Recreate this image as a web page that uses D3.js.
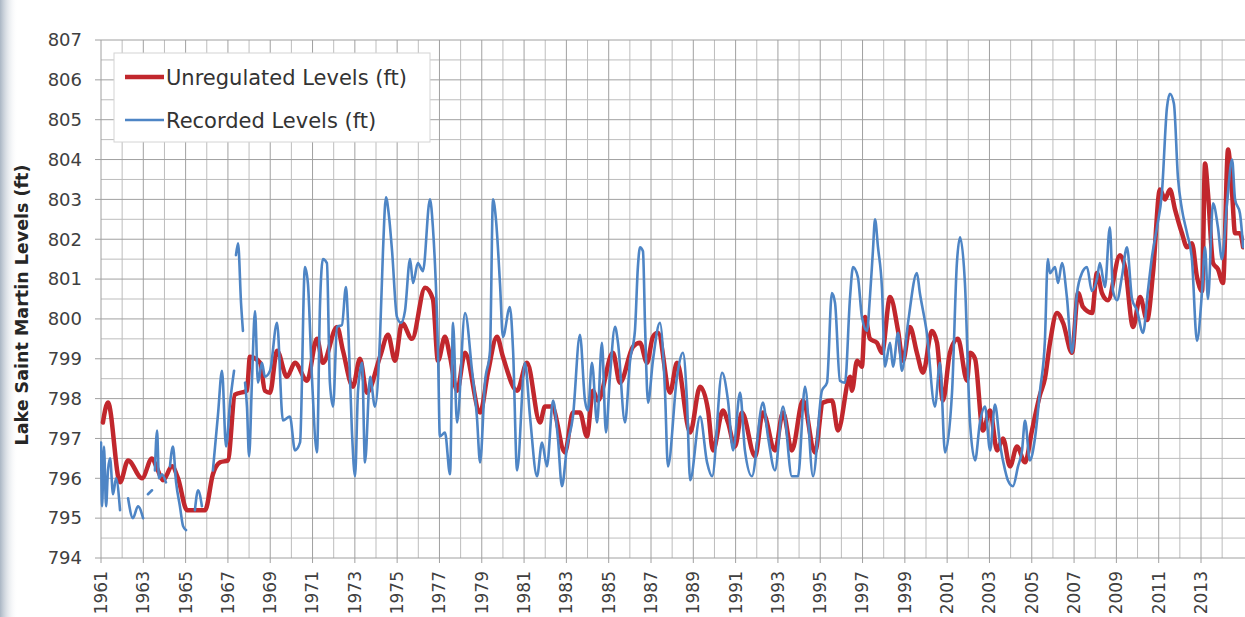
<!DOCTYPE html>
<html>
<head>
<meta charset="utf-8">
<title>Lake Saint Martin Levels</title>
<script src="https://cdn.jsdelivr.net/npm/d3@7"></script>
<style>
  html, body { margin: 0; padding: 0; background: #fff; }
  svg { display: block; font-family: "DejaVu Sans", sans-serif; }
</style>
</head>
<body>
<div id="chart"></div>
<script>
// Unregulated levels (ft) - decimal year / level
const unregYears = [1961.09,1961.33,1961.90,1962.28,1962.94,1963.41,1963.65,1963.93,1964.36,1964.64,1965.07,1965.92,1966.29,1966.63,1967.00,1967.33,1967.90,1968.04,1968.52,1968.75,1968.99,1969.32,1969.79,1970.17,1970.74,1971.21,1971.49,1972.16,1972.44,1972.91,1973.24,1973.57,1974.19,1974.57,1974.90,1975.23,1975.70,1976.32,1976.69,1976.93,1977.26,1977.50,1977.83,1978.21,1978.92,1979.29,1979.72,1980.00,1980.67,1981.14,1981.75,1981.99,1982.32,1982.93,1983.31,1983.64,1983.97,1984.26,1984.49,1985.20,1985.53,1986.15,1986.48,1986.81,1987.09,1987.33,1987.90,1988.23,1988.85,1989.32,1989.70,1989.93,1990.40,1990.64,1990.97,1991.30,1991.92,1992.29,1992.86,1993.24,1993.66,1994.18,1994.75,1995.13,1995.56,1995.84,1996.41,1996.50,1996.74,1996.97,1997.12,1997.35,1997.68,1997.92,1998.30,1998.68,1998.91,1999.24,1999.57,1999.86,2000.28,2000.52,2000.80,2001.13,2001.51,2001.94,2002.08,2002.32,2002.69,2003.03,2003.36,2003.64,2003.97,2004.30,2004.68,2005.01,2005.39,2005.62,2005.86,2006.19,2006.48,2006.90,2007.19,2007.42,2007.85,2008.08,2008.32,2008.60,2009.17,2009.41,2009.79,2010.12,2010.45,2010.73,2011.06,2011.30,2011.53,2011.77,2012.10,2012.34,2012.57,2012.81,2013.05,2013.19,2013.33,2013.57,2013.80,2014.04,2014.28,2014.47,2014.61,2014.84,2014.99];
const unregLevels = [797.4,797.9,795.9,796.45,796.0,796.5,796.25,795.95,796.3,796.0,795.2,795.2,796.1,796.4,796.45,798.1,798.2,799.05,798.9,798.2,798.15,799.2,798.55,798.9,798.45,799.5,798.9,799.8,799.2,798.3,799.0,798.15,799.05,799.6,798.95,799.9,799.5,800.78,800.5,798.95,799.55,799.05,798.2,799.15,797.65,798.65,799.55,799.05,798.2,798.9,797.4,797.8,797.8,796.65,797.65,797.65,797.05,798.2,797.95,799.15,798.4,799.3,799.4,798.9,799.55,799.65,798.15,798.9,797.15,798.3,797.7,796.7,797.7,797.4,796.8,797.65,796.55,797.65,796.7,797.65,796.7,797.95,796.65,797.9,797.95,797.2,798.55,798.2,798.95,798.8,800.05,799.5,799.4,799.15,800.55,799.7,798.95,799.8,799.15,798.65,799.7,799.4,797.95,799.15,799.5,798.45,799.15,799.0,797.2,797.7,796.7,797.0,796.3,796.8,796.4,797.2,798.1,798.5,799.4,800.15,799.9,799.15,800.65,800.3,800.15,801.15,800.65,800.47,801.6,801.3,799.8,800.55,799.97,801.15,803.25,803.0,803.25,802.75,802.15,801.8,801.9,801.05,800.7,803.9,803.15,801.4,801.25,800.9,804.25,803.15,802.15,802.15,801.8];

// Recorded levels (ft) - null marks a gap in the record
const recYears = [1961.00,1961.05,1961.14,1961.24,1961.33,1961.43,1961.57,1961.71,1961.90,1962.00,
  1962.28,1962.51,1962.75,1962.99,1963.10,
  1963.22,1963.41,1963.48,
  1963.55,1963.65,1963.74,1963.88,1964.07,1964.15,
  1964.26,1964.40,1964.55,1964.73,1964.88,1965.02,1965.20,
  1965.44,1965.59,1965.77,1966.00,
  1966.29,1966.53,1966.72,1966.91,1967.10,1967.29,1967.33,
  1967.38,1967.48,1967.62,1967.71,1967.76,
  1967.81,1967.90,1968.00,1968.14,1968.28,1968.42,1968.61,1968.75,1968.99,1969.32,1969.60,1969.93,1970.17,1970.41,1970.64,1970.78,1970.97,1971.21,1971.35,1971.49,1971.68,1971.82,1971.97,1972.16,1972.39,1972.58,1972.68,1972.86,1973.01,1973.15,1973.34,1973.48,1973.72,1973.95,1974.19,1974.33,1974.47,1974.61,1974.76,1974.99,1975.18,1975.37,1975.61,1975.75,1975.98,1976.22,1976.55,1976.69,1976.93,1977.02,1977.26,1977.50,1977.64,1977.83,1978.21,1978.54,1978.77,1978.92,1979.15,1979.39,1979.53,1979.67,1979.86,1980.00,1980.33,1980.48,1980.67,1981.04,1981.28,1981.61,1981.85,1982.08,1982.37,1982.60,1982.79,1983.03,1983.31,1983.64,1983.88,1984.02,1984.21,1984.45,1984.68,1984.87,1985.06,1985.30,1985.44,1985.77,1986.01,1986.24,1986.38,1986.48,1986.62,1986.72,1986.86,1987.09,1987.42,1987.66,1987.80,1988.23,1988.51,1988.70,1988.85,1989.32,1989.65,1989.89,1990.36,1990.64,1990.88,1991.21,1991.44,1991.77,1992.29,1992.53,1992.86,1993.24,1993.66,1993.95,1994.28,1994.66,1995.08,1995.32,1995.55,1995.70,1995.93,1996.17,1996.41,1996.55,1996.78,1996.97,1997.21,1997.35,1997.49,1997.59,1997.73,1997.92,1998.06,1998.30,1998.44,1998.68,1998.86,1999.15,1999.57,1999.71,2000.04,2000.42,2000.66,2000.90,2001.23,2001.46,2001.61,2001.84,2002.08,2002.32,2002.55,2002.79,2003.03,2003.26,2003.50,2003.74,2003.87,2004.11,2004.35,2004.54,2004.68,2004.91,2005.15,2005.39,2005.62,2005.76,2005.86,2006.10,2006.24,2006.43,2006.66,2006.90,2007.14,2007.37,2007.61,2007.84,2008.08,2008.22,2008.46,2008.69,2008.84,2009.03,2009.26,2009.50,2009.74,2009.97,2010.26,2010.49,2010.68,2010.92,2011.15,2011.39,2011.53,2011.72,2011.91,2012.10,2012.34,2012.57,2012.81,2013.05,2013.19,2013.33,2013.57,2013.80,2013.99,2014.23,2014.47,2014.61,2014.84,2014.99];
const recLevels = [796.9,795.3,796.8,795.3,796.2,796.5,795.6,796.0,795.2,null,
  795.5,795.0,795.3,795.0,null,
  795.6,795.7,null,
  796.2,797.2,796.0,796.1,795.9,null,
  796.3,796.8,795.9,795.3,794.8,794.7,null,
  795.2,795.7,795.3,null,
  796.2,797.6,798.7,796.8,797.9,798.7,null,
  801.6,801.9,800.4,799.7,null,
  798.4,797.8,796.55,798.5,800.2,798.4,798.9,798.55,798.7,799.9,797.45,797.55,796.7,796.9,801.3,800.9,798.55,796.65,800.3,801.5,801.4,798.4,797.8,799.8,799.85,800.8,799.9,797.2,796.05,798.2,798.9,796.4,798.55,797.8,799.55,801.7,803.05,802.6,801.7,800.05,799.9,800.2,801.5,800.9,801.4,801.2,803.0,802.3,799.2,797.05,797.15,796.1,799.9,797.4,800.15,798.7,797.55,796.4,798.4,799.2,803.0,802.5,800.9,799.55,800.3,799.2,796.2,798.9,797.55,796.05,796.9,796.3,797.95,797.0,795.8,796.8,797.55,799.6,797.95,797.7,798.9,797.4,799.4,797.15,798.55,799.8,799.4,797.4,798.95,799.7,801.3,801.8,801.7,799.8,797.9,798.95,799.9,798.2,796.3,798.55,799.15,797.95,795.95,797.55,796.4,796.05,798.65,797.95,796.7,798.15,796.7,796.05,797.9,797.05,796.2,797.8,796.05,796.05,798.3,796.05,798.2,798.4,800.65,800.4,798.45,798.4,800.55,801.3,801.05,800.05,799.7,800.55,801.7,802.5,801.8,800.75,798.8,799.4,798.8,799.65,798.7,799.9,801.15,800.65,799.65,797.8,798.9,796.65,798.15,801.4,802.05,800.9,797.4,796.45,797.4,797.8,796.7,797.85,796.85,796.2,795.95,795.8,796.3,796.7,797.45,796.45,797.0,798.2,799.45,801.5,801.15,801.3,800.9,801.4,800.55,799.15,800.65,801.15,801.3,800.7,801.0,801.4,800.8,802.3,800.7,800.47,801.05,801.8,800.5,800.22,799.65,800.7,801.55,802.3,803.15,805.3,805.65,805.4,803.55,802.75,802.15,801.5,799.45,800.7,801.8,800.5,802.9,802.3,801.5,802.9,804.0,803.0,802.65,801.8];

const yTicks = d3.range(794, 808);
const xTickYears = d3.range(1961, 2014, 2);
const legendLabels = ["Unregulated Levels (ft)", "Recorded Levels (ft)"];
const yTitle = "Lake Saint Martin Levels (ft)";

const W = 1245, H = 617;
const plotLeft = 101, plotTop = 40, plotBottom = 558, plotRight = 1245;

const x = d3.scaleLinear().domain([1961, 2013]).range([plotLeft, 1201]);
const y = d3.scaleLinear().domain([794, 807]).range([plotBottom, plotTop]);

const svg = d3.select("#chart").append("svg")
  .attr("width", W).attr("height", H);

// faint photo edge on the left
const defs = svg.append("defs");
const grad = defs.append("linearGradient").attr("id", "edge");
grad.append("stop").attr("offset", "0%").attr("stop-color", "#aab6c4");
grad.append("stop").attr("offset", "100%").attr("stop-color", "#ffffff").attr("stop-opacity", 0);
svg.append("rect").attr("x", 0).attr("y", 0).attr("width", 18).attr("height", H).attr("fill", "url(#edge)");

const clip = defs.append("clipPath").attr("id", "plot");
clip.append("rect").attr("x", x(1961) - 1).attr("y", plotTop - 3)
  .attr("width", plotRight - plotLeft).attr("height", plotBottom - plotTop + 6);

// grid
const grid = svg.append("g");
const halfTicks = d3.range(794.5, 807, 1);
grid.selectAll(".minorH").data(halfTicks).enter().append("line")
  .attr("x1", x(1961)).attr("x2", plotRight)
  .attr("y1", d => y(d)).attr("y2", d => y(d))
  .attr("stroke", "#bdbdbd").attr("stroke-width", 1);
const yearLines = d3.range(1961, 2015);
grid.selectAll(".vline").data(yearLines).enter().append("line")
  .attr("x1", d => x(d)).attr("x2", d => x(d))
  .attr("y1", plotTop).attr("y2", d => (d - 1961) % 2 === 0 ? plotBottom + 5 : plotBottom)
  .attr("stroke", d => (d - 1961) % 2 === 0 ? "#a0a0a0" : "#bdbdbd").attr("stroke-width", 1);
grid.selectAll(".majorH").data(yTicks).enter().append("line")
  .attr("x1", x(1961) - 6).attr("x2", plotRight)
  .attr("y1", d => y(d)).attr("y2", d => y(d))
  .attr("stroke", "#a0a0a0").attr("stroke-width", 1);

// y labels
svg.append("g").selectAll("text").data(yTicks).enter().append("text")
  .attr("x", 82).attr("y", d => y(d)).attr("dy", "0.35em")
  .attr("text-anchor", "end").attr("font-size", 18).attr("fill", "#404040")
  .text(d => d);

// x labels
svg.append("g").selectAll("text").data(xTickYears).enter().append("text")
  .attr("transform", d => `translate(${x(d)},571) rotate(-90)`)
  .attr("dy", "0.35em").attr("text-anchor", "end")
  .attr("font-size", 17).attr("fill", "#404040")
  .text(d => d);

// y title
svg.append("text")
  .attr("transform", "translate(22,305) rotate(-90)")
  .attr("dy", "0.35em").attr("text-anchor", "middle")
  .attr("font-size", 17.5).attr("font-weight", "bold").attr("fill", "#262626")
  .text(yTitle);

// series
const unreg = unregYears.map((t, i) => ({ t, v: unregLevels[i] }));
const rec = recYears.map((t, i) => ({ t, v: recLevels[i] }));
const line = d3.line().defined(d => d.v != null).x(d => x(d.t)).y(d => y(d.v))
  .curve(d3.curveMonotoneX);

const plot = svg.append("g").attr("clip-path", "url(#plot)");
plot.append("path").datum(unreg).attr("d", line)
  .attr("fill", "none").attr("stroke", "#c1272d").attr("stroke-width", 4.5)
  .attr("stroke-linejoin", "round").attr("stroke-linecap", "round");
plot.append("path").datum(rec).attr("d", line)
  .attr("fill", "none").attr("stroke", "#4e85c5").attr("stroke-width", 2.6)
  .attr("stroke-linejoin", "round").attr("stroke-linecap", "round");

// legend
const lg = svg.append("g");
lg.append("rect").attr("x", 114).attr("y", 53).attr("width", 316).attr("height", 89)
  .attr("fill", "#fff").attr("stroke", "#d4d4d4");
const legendColors = ["#c1272d", "#4e85c5"];
const legendWidths = [4.5, 2.6];
legendLabels.forEach((lab, i) => {
  const ly = 77 + i * 43;
  lg.append("line").attr("x1", 125).attr("x2", 164).attr("y1", ly).attr("y2", ly)
    .attr("stroke", legendColors[i]).attr("stroke-width", legendWidths[i]);
  lg.append("text").attr("x", 166).attr("y", ly).attr("dy", "0.36em")
    .attr("font-size", 21).attr("fill", "#333").text(lab);
});
</script>
</body>
</html>
